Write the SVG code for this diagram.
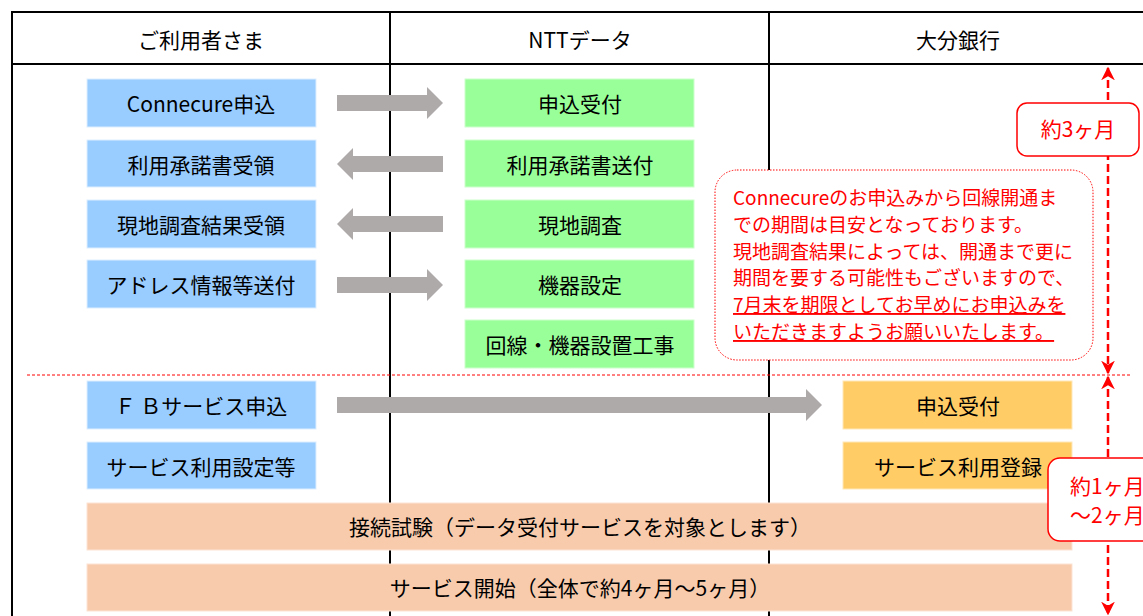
<svg xmlns="http://www.w3.org/2000/svg" width="1143" height="616" viewBox="0 0 1143 616">
<defs>
<style>
text{font-family:"Noto Sans CJK JP","Noto Sans",sans-serif;fill:#000;}
.t{font-size:21px;text-anchor:middle;dominant-baseline:central;}
.h{font-size:21px;text-anchor:middle;dominant-baseline:central;}
.blue{fill:#99CCFF;stroke:#DDEEFF;stroke-width:1;}
.green{fill:#99FF99;stroke:#CCFFCC;stroke-width:1;}
.yellow{fill:#FFCC66;stroke:#FFE8B8;stroke-width:1;}
.orange{fill:#F8CBAD;stroke:#FBE3D3;stroke-width:1;}
.grid{stroke:#000;stroke-width:2;fill:none;}
.arr{fill:#AEAAAA;}
.note{font-size:19px;fill:#FF0000;}
.rlab{font-size:21px;fill:#FF0000;}
.rd{stroke:#FF0000;stroke-width:2.5;stroke-dasharray:8 4;fill:none;}
</style>
<marker id="ah" viewBox="0 0 10 10" refX="9" refY="5" markerWidth="5.5" markerHeight="5.5" orient="auto-start-reverse">
<path d="M0,0 L10,5 L0,10 L3,5 Z" fill="#FF0000"/>
</marker>
</defs>
<rect width="1143" height="616" fill="#fff"/>
<g id="grid">
<path class="grid" d="M12,616 V12 H1143 M12,64 H1143 M390,12 V616 M769,12 V616"/>
</g>
<g id="headers">
<text class="h" x="201" y="39">ご利用者さま</text>
<text class="h" x="580" y="39">NTTデータ</text>
<text class="h" x="958" y="39">大分銀行</text>
</g>
<line x1="27" y1="375" x2="1130" y2="375" stroke="#FF0000" stroke-width="1" stroke-dasharray="3 2"/>
<g id="connectors">
<path class="arr" d="M337,95 H427 V87 L443,103 L427,119 V111 H337 Z"/>
<path class="arr" d="M443,156 H353 V148 L337,164 L353,180 V172 H443 Z"/>
<path class="arr" d="M443,216 H353 V208 L337,224 L353,240 V232 H443 Z"/>
<path class="arr" d="M337,277 H427 V269 L443,285 L427,301 V293 H337 Z"/>
<path class="arr" d="M337,397 H806 V389 L822,405 L806,421 V413 H337 Z"/>
</g>
<g id="n1"><rect class="blue" x="87" y="79" width="229" height="48"/><text class="t" x="201" y="103">Connecure申込</text></g>
<g id="n2"><rect class="blue" x="87" y="140" width="229" height="47"/><text class="t" x="201" y="164">利用承諾書受領</text></g>
<g id="n3"><rect class="blue" x="87" y="200" width="229" height="48"/><text class="t" x="201" y="224">現地調査結果受領</text></g>
<g id="n4"><rect class="blue" x="87" y="260" width="229" height="48"/><text class="t" x="201" y="284">アドレス情報等送付</text></g>
<g id="n5"><rect class="green" x="465" y="79" width="229" height="48"/><text class="t" x="580" y="103">申込受付</text></g>
<g id="n6"><rect class="green" x="465" y="140" width="229" height="47"/><text class="t" x="580" y="164">利用承諾書送付</text></g>
<g id="n7"><rect class="green" x="465" y="200" width="229" height="48"/><text class="t" x="580" y="224">現地調査</text></g>
<g id="n8"><rect class="green" x="465" y="260" width="229" height="48"/><text class="t" x="580" y="284">機器設定</text></g>
<g id="n9"><rect class="green" x="465" y="320" width="229" height="48"/><text class="t" x="580" y="344">回線・機器設置工事</text></g>
<g id="n10"><rect class="blue" x="87" y="381" width="229" height="48"/><text class="t" x="201" y="405">Ｆ Ｂサービス申込</text></g>
<g id="n11"><rect class="blue" x="87" y="442" width="229" height="47"/><text class="t" x="201" y="466">サービス利用設定等</text></g>
<g id="n12"><rect class="yellow" x="843" y="381" width="229" height="48"/><text class="t" x="958" y="405">申込受付</text></g>
<g id="n13"><rect class="yellow" x="843" y="442" width="229" height="47"/><text class="t" x="958" y="466">サービス利用登録</text></g>
<g id="n14"><rect class="orange" x="87" y="503" width="985" height="47"/><text class="t" x="580" y="526">接続試験（データ受付サービスを対象とします）</text></g>
<g id="n15"><rect class="orange" x="87" y="564" width="985" height="47"/><text class="t" x="580" y="587">サービス開始（全体で約4ヶ月～5ヶ月）</text></g>
<g id="note">
<rect x="715" y="170" width="378" height="190" rx="22" fill="#fff" stroke="#FF0000" stroke-width="1" stroke-dasharray="1.5 1.5"/>
<text class="note" x="733" y="205">Connecureのお申込みから回線開通ま</text>
<text class="note" x="733" y="232">での期間は目安となっております。</text>
<text class="note" x="733" y="259">現地調査結果によっては、開通まで更に</text>
<text class="note" x="733" y="285">期間を要する可能性もございますので、</text>
<text class="note" x="733" y="312" text-decoration="underline">7月末を期限としてお早めにお申込みを</text>
<text class="note" x="733" y="339" text-decoration="underline">いただきますようお願いいたします。</text>
</g>
<g id="span1">
<line class="rd" x1="1108" y1="68" x2="1108" y2="373" marker-start="url(#ah)" marker-end="url(#ah)"/>
<rect x="1017" y="103" width="122" height="53" rx="10" fill="#fff" stroke="#FF0000" stroke-width="1.5"/>
<text class="rlab" x="1078" y="137" text-anchor="middle">約3ヶ月</text>
</g>
<g id="span2">
<line class="rd" x1="1108" y1="377" x2="1108" y2="614" marker-start="url(#ah)" marker-end="url(#ah)"/>
<rect x="1048" y="458" width="110" height="83" rx="12" fill="#fff" stroke="#FF0000" stroke-width="1.5"/>
<text class="rlab" x="1070" y="494">約1ヶ月</text>
<text class="rlab" x="1070" y="523">～2ヶ月</text>
</g>
</svg>
